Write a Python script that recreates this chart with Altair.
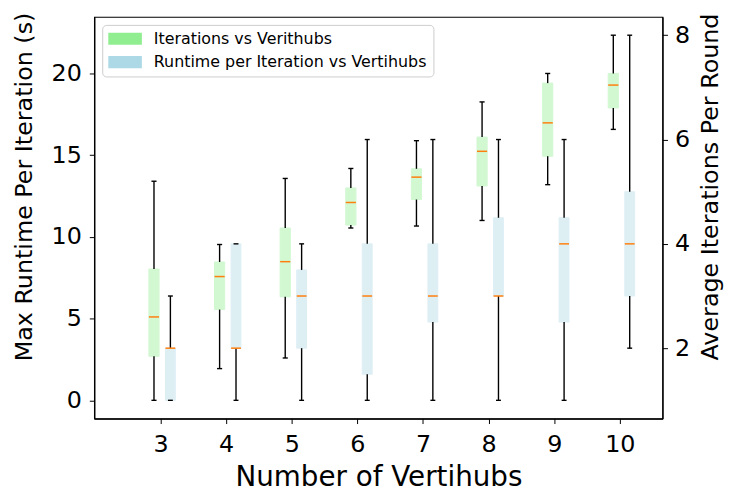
import altair as alt
import pandas as pd

vertihubs = [3, 4, 5, 6, 7, 8, 9, 10]

# Green boxes (left axis)
it_lo = [0.0, 1.94, 2.59, 10.54, 10.66, 11.0, 13.19, 16.57]
it_q1 = [2.69, 5.55, 6.33, 10.72, 12.28, 13.11, 14.93, 17.88]
it_med = [5.1, 7.57, 8.48, 12.1, 13.65, 15.23, 16.97, 19.28]
it_q3 = [8.03, 8.46, 10.54, 12.99, 14.16, 16.1, 19.4, 19.99]
it_hi = [13.4, 9.53, 13.57, 14.18, 15.88, 18.25, 19.99, 22.33]

# Blue boxes (right axis)
rt_lo = [1, 1, 1, 1, 1, 1, 1, 2]
rt_q1 = [1, 2, 2, 1.5, 2.5, 3, 2.5, 3]
rt_med = [2, 2, 3, 3, 3, 3, 4, 4]
rt_q3 = [2, 4, 3.5, 4, 4, 4.5, 4.5, 5]
rt_hi = [3, 4, 4, 6, 6, 6, 6, 8]

series_names = ["Iterations vs Verithubs", "Runtime per Iteration vs Vertihubs"]
series_colors = ["#90EE90", "#ADD8E6"]

FONT = "DejaVu Sans"


def make_df(lo, q1, med, q3, hi, offset, width, name):
    df = pd.DataFrame({"v": vertihubs, "lo": lo, "q1": q1, "med": med, "q3": q3, "hi": hi})
    df["pos"] = df["v"] + offset
    df["left"] = df["pos"] - width / 2
    df["right"] = df["pos"] + width / 2
    df["capl"] = df["pos"] - width / 4
    df["capr"] = df["pos"] + width / 4
    df["series"] = name
    return df


xs = alt.Scale(domain=[1.99, 10.65], nice=False, zero=False)
xaxis = alt.Axis(values=vertihubs, title="Number of Vertihubs", grid=False,
                 labelFontSize=24, titleFontSize=28, tickSize=5, labelPadding=9,
                 titleY=67, titleBaseline="alphabetic", titleFontWeight="normal",
                 labelColor="black", titleColor="black", domainColor="black",
                 tickColor="black", labelFont=FONT, titleFont=FONT)


def group(df, yscale, yaxis, color):
    base = alt.Chart(df)

    def X(f):
        return alt.X(f"{f}:Q", scale=xs, axis=xaxis)

    def Y(f):
        return alt.Y(f"{f}:Q", scale=yscale, axis=yaxis)

    box = base.mark_rect(opacity=0.4, stroke=color, strokeWidth=1).encode(
        x=X("left"), x2="right", y=Y("q1"), y2="q3",
        color=alt.Color("series:N",
                        scale=alt.Scale(domain=series_names, range=series_colors),
                        legend=alt.Legend(
                            title=None, orient="none", legendX=8, legendY=8,
                            padding=6, strokeColor="#cccccc", fillColor="white",
                            cornerRadius=4,
                            symbolType="M-1,-0.36H1V0.36H-1Z", symbolSize=1156,
                            symbolStrokeWidth=0, symbolOpacity=1,
                            clipHeight=16, rowPadding=7.6,
                            labelFontSize=16, labelOffset=12, labelFont=FONT,
                            labelLimit=0, labelColor="black")))
    wl = base.mark_rule(color="black", strokeWidth=1.4).encode(x=X("pos"), y=Y("lo"), y2="q1")
    wh = base.mark_rule(color="black", strokeWidth=1.4).encode(x=X("pos"), y=Y("q3"), y2="hi")
    cl = base.mark_rule(color="black", strokeWidth=1.4).encode(x=X("capl"), x2="capr", y=Y("lo"))
    ch = base.mark_rule(color="black", strokeWidth=1.4).encode(x=X("capl"), x2="capr", y=Y("hi"))
    md = base.mark_rule(color="#ff7f0e", strokeWidth=1.5).encode(x=X("left"), x2="right", y=Y("med"))
    return alt.layer(box, wl, wh, cl, ch, md)


green = make_df(it_lo, it_q1, it_med, it_q3, it_hi, -0.1, 0.155, series_names[0])
blue = make_df(rt_lo, rt_q1, rt_med, rt_q3, rt_hi, 0.15, 0.15, series_names[1])

left_scale = alt.Scale(domain=[-1.1165, 23.4465], nice=False, zero=False)
right_scale = alt.Scale(domain=[0.65, 8.35], nice=False, zero=False)

left_axis = alt.Axis(orient="left", values=[0, 5, 10, 15, 20], grid=False,
                     title="Max Runtime Per Iteration (s)", labelFontSize=24,
                     titleFontSize=24, tickSize=5, labelPadding=8,
                     titleX=-70, titleY=171, titleAngle=270, titleBaseline="middle",
                     titleAlign="center", titleFontWeight="normal",
                     labelColor="black", titleColor="black", domainColor="black",
                     tickColor="black", labelFont=FONT, titleFont=FONT)
right_axis = alt.Axis(orient="right", values=[2, 4, 6, 8], grid=False,
                      title="Average Iterations Per Round", labelFontSize=24,
                      titleFontSize=24, tickSize=5, labelPadding=7,
                      titleX=48, titleY=171, titleAngle=270, titleBaseline="middle",
                      titleAlign="center", titleFontWeight="normal",
                      labelColor="black", titleColor="black", domainColor="black",
                      tickColor="black", labelFont=FONT, titleFont=FONT)

chart = alt.layer(
    group(green, left_scale, left_axis, series_colors[0]),
    group(blue, right_scale, right_axis, series_colors[1]),
).resolve_scale(y="independent").properties(
    width=573, height=405,
    autosize=alt.AutoSizeParams(type="none"),
    padding={"left": 87, "top": 7, "right": 62, "bottom": 72},
).configure_view(stroke="black", strokeWidth=1.2).configure_axis(domainWidth=1.2)

chart.save("out.html", embed_options={"renderer": "svg", "actions": False})
